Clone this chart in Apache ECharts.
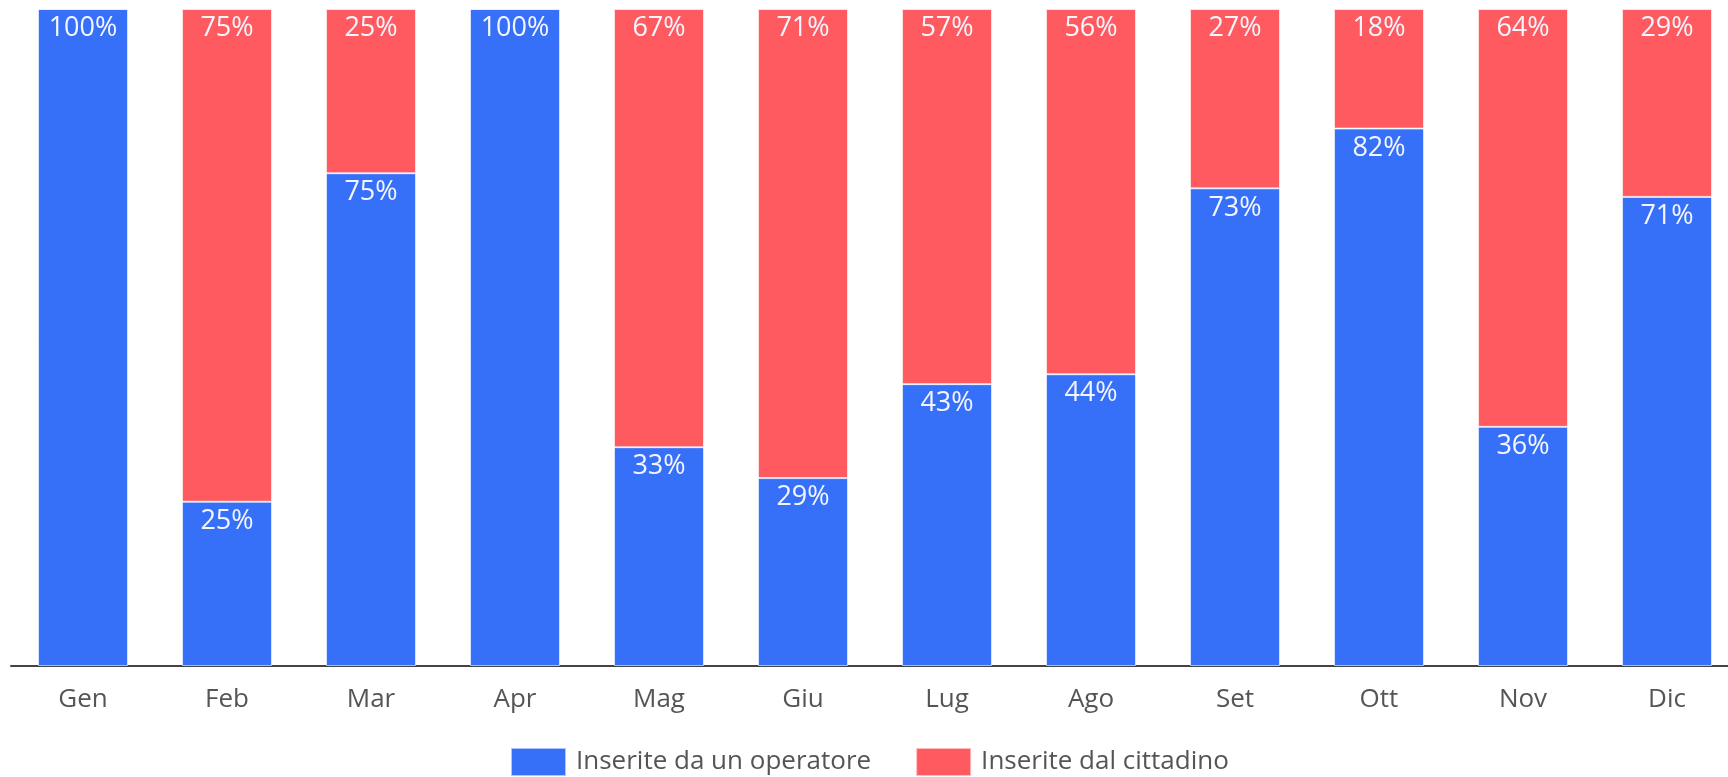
<!DOCTYPE html>
<html>
<head>
<meta charset="utf-8">
<script src="https://cdn.jsdelivr.net/npm/echarts@6/dist/echarts.min.js"></script>
<style>
html,body{margin:0;padding:0;background:#fff;}
#chart{width:1728px;height:777px;}
</style>
</head>
<body>
<div id="chart"></div>
<script>
const categories = ['Gen','Feb','Mar','Apr','Mag','Giu','Lug','Ago','Set','Ott','Nov','Dic'];
const operatore = [100, 25, 75, 100, 33.3, 28.6, 42.9, 44.4, 72.7, 81.8, 36.4, 71.4];
const cittadino = [0, 75, 25, 0, 66.7, 71.4, 57.1, 55.6, 27.3, 18.2, 63.6, 28.6];
const seriesNames = ['Inserite da un operatore', 'Inserite dal cittadino'];

const FONT = 'Open Sans';
const chart = echarts.init(document.getElementById('chart'), null, {renderer: 'canvas'});
const labelCfg = {
  show: true,
  position: 'insideTop',
  distance: 6,
  color: '#f4f6ff',
  fontFamily: FONT,
  fontSize: 27,
  formatter: p => p.value > 0 ? Math.round(p.value) + '%' : ''
};
chart.setOption({
  animation: false,
  textStyle: {fontFamily: FONT},
  grid: {left: 11, top: 9, right: -11, height: 657, containLabel: false, outerBoundsMode: 'none'},
  legend: {
    top: 742,
    left: 505,
    icon: 'rect',
    itemWidth: 55,
    itemHeight: 28,
    itemGap: 44,
    textStyle: {fontFamily: FONT, fontSize: 26, color: '#555', padding: [0, 0, 0, 5]},
    data: seriesNames
  },
  xAxis: {
    type: 'category',
    data: categories,
    axisLine: {lineStyle: {color: '#444', width: 2}},
    axisTick: {show: false},
    axisLabel: {color: '#555', fontSize: 26, fontFamily: FONT, margin: 21}
  },
  yAxis: {type: 'value', min: 0, max: 100, show: false},
  series: [
    {
      name: seriesNames[0], type: 'bar', stack: 'tot', barWidth: 90,
      data: operatore,
      itemStyle: {color: '#3670f9', borderColor: 'rgba(255,255,255,0.6)', borderWidth: 1},
      label: labelCfg
    },
    {
      name: seriesNames[1], type: 'bar', stack: 'tot', barWidth: 90,
      data: cittadino,
      itemStyle: {color: '#ff5a5f', borderColor: 'rgba(255,255,255,0.6)', borderWidth: 1},
      label: labelCfg
    }
  ]
});
</script>
</body>
</html>
